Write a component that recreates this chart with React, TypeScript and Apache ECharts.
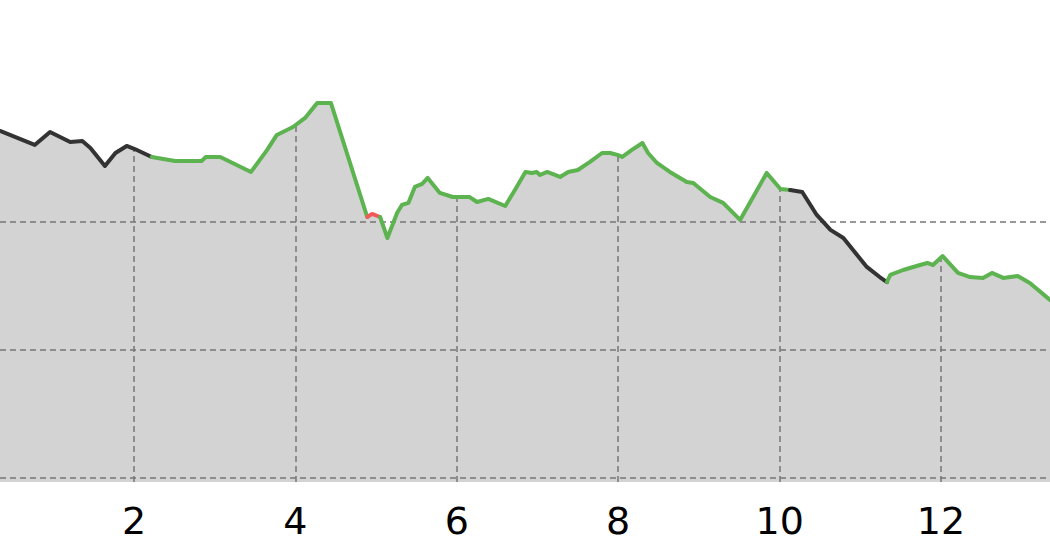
import React, { useEffect, useRef } from "react";
import * as echarts from "echarts";

// Distance along the route (x) and elevation (y)
const distance = [
  0.34, 0.77, 0.96, 1.21, 1.36, 1.46, 1.64, 1.77, 1.91, 2.01,
  2.22, 2.51, 2.84, 2.89, 3.07, 3.45, 3.65, 3.77, 3.97, 4.12,
  4.27, 4.44, 4.89, 4.95, 5.05, 5.14, 5.26, 5.32, 5.40, 5.48,
  5.57, 5.64, 5.79, 5.95, 6.16, 6.25, 6.39, 6.60, 6.72, 6.85,
  6.93, 6.99, 7.03, 7.12, 7.28, 7.38, 7.50, 7.65, 7.80, 7.90,
  7.99, 8.05, 8.17, 8.30, 8.37, 8.48, 8.64, 8.85, 8.93, 9.14,
  9.30, 9.51, 9.70, 9.84, 10.01, 10.13, 10.28, 10.46, 10.63, 10.79,
  10.96, 11.08, 11.24, 11.33, 11.37, 11.53, 11.74, 11.83, 11.90, 12.02,
  12.21, 12.36, 12.52, 12.63, 12.77, 12.95, 13.10, 13.35,
];
const elevation = [
  270.7, 259.8, 269.9, 262.1, 262.9, 257.4, 243.4, 253.5, 259.0, 256.6,
  250.4, 247.3, 247.3, 250.4, 250.4, 238.7, 255.9, 267.6, 273.8, 280.9,
  292.6, 292.6, 203.5, 205.9, 203.5, 187.1, 206.6, 212.9, 214.5, 227.0,
  229.3, 234.0, 222.3, 219.1, 219.1, 215.2, 217.6, 212.1, 224.6, 238.7,
  237.9, 238.7, 236.3, 238.7, 234.8, 238.7, 240.2, 246.5, 253.5, 253.5,
  252.0, 250.4, 255.9, 261.3, 253.5, 245.7, 238.7, 230.9, 230.1, 219.1,
  214.5, 201.2, 222.3, 237.9, 225.4, 224.6, 223.0, 205.1, 193.4, 187.1,
  173.8, 164.5, 156.6, 152.7, 158.2, 162.1, 166.0, 167.6, 166.0, 173.0,
  159.8, 156.6, 155.9, 159.8, 155.9, 157.4, 152.0, 138.7,
];

// Coloured stretches of the profile: [first index, last index, kind]
const segmentStart = [0, 10, 22, 24, 65, 73];
const segmentEnd = [10, 22, 24, 65, 73, 87];
const segmentKind = ["flat", "up", "steep", "up", "flat", "up"];

const xTicks = [2, 4, 6, 8, 10, 12];
const yGrid = [0, 100, 200];

const X_MIN = 0.34;
const X_MAX = 13.35;
const Y_MIN = -3.5;
const Y_MAX = 373;

const kindColor: Record<string, string> = {
  flat: "#333333",
  up: "#5cb34f",
  steep: "#f25a5a",
};

function interp(x: number): number {
  for (let i = 0; i < distance.length - 1; i++) {
    if (x >= distance[i] && x <= distance[i + 1]) {
      const t = (x - distance[i]) / (distance[i + 1] - distance[i]);
      return elevation[i] + t * (elevation[i + 1] - elevation[i]);
    }
  }
  return elevation[elevation.length - 1];
}

export default function App() {
  const ref = useRef<HTMLDivElement>(null);

  useEffect(() => {
    if (!ref.current) return;
    const chart = echarts.init(ref.current, undefined, { renderer: "svg" });
    const points = distance.map((d, i) => [d, elevation[i]]);

    const gridStyle = { type: [6, 4] as any, color: "#777777", width: 1.5 };

    const segSeries = segmentStart.map((s, k) => ({
      type: "line" as const,
      data: points.slice(s, segmentEnd[k] + 1),
      showSymbol: false,
      z: 5,
      lineStyle: { color: kindColor[segmentKind[k]], width: 4, join: "round", cap: "round" },
      silent: true,
    }));

    chart.setOption({
      animation: false,
      backgroundColor: "#ffffff",
      grid: { left: 0, right: 0, top: 0, bottom: 78, containLabel: false },
      xAxis: {
        type: "value",
        min: X_MIN,
        max: X_MAX,
        splitLine: { show: false },
        axisTick: { show: false },
        axisLine: { show: true, lineStyle: { color: "#000000", width: 2.5 } },
        axisLabel: {
          customValues: xTicks,
          color: "#000000",
          fontFamily: "DejaVu Sans",
          fontSize: 38,
          margin: 20,
        },
      },
      yAxis: {
        type: "value",
        min: Y_MIN,
        max: Y_MAX,
        show: false,
        splitLine: { show: false },
      },
      series: [
        {
          type: "line",
          data: points,
          showSymbol: false,
          z: 1,
          lineStyle: { width: 0, opacity: 0 },
          areaStyle: { color: "#d3d3d3", opacity: 1, origin: "start" },
          silent: true,
        },
        {
          type: "line",
          data: points,
          showSymbol: false,
          z: 3,
          lineStyle: { width: 0, opacity: 0 },
          silent: true,
          markLine: {
            silent: true,
            symbol: ["none", "none"],
            label: { show: false },
            lineStyle: gridStyle,
            data: [
              ...yGrid.map((v) => ({ yAxis: v, lineStyle: gridStyle })),
              ...xTicks.map((t) => [
                { coord: [t, Y_MIN], lineStyle: gridStyle },
                { coord: [t, interp(t)] },
              ]),
            ],
          },
        },
        ...segSeries,
      ],
    });
    return () => chart.dispose();
  }, []);

  return (
    <div
      ref={ref}
      style={{ position: "fixed", left: 0, top: 0, width: 1050, height: 560, background: "#fff" }}
    />
  );
}
